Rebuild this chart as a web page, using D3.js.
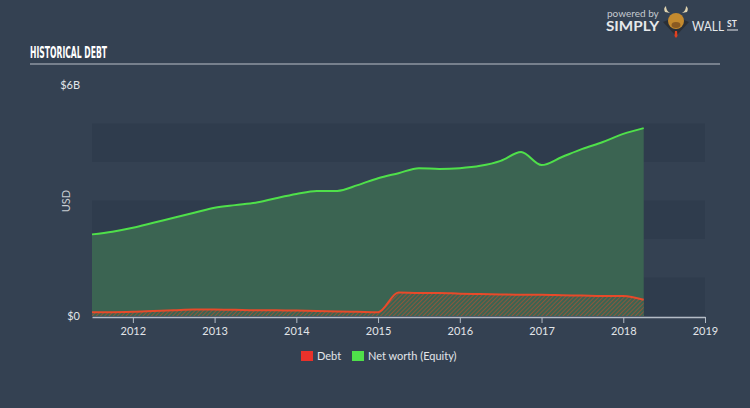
<!DOCTYPE html>
<html><head><meta charset="utf-8">
<script src="https://cdn.jsdelivr.net/npm/d3@7"></script>
<style>html,body{margin:0;padding:0;background:#344152;}svg{display:block;}</style>
</head><body>
<svg id="chart" width="750" height="408"></svg>
<script>
// Data (quarterly, fractional year -> billions USD)
const dates = [2011.5,2011.75,2012,2012.25,2012.5,2012.75,2013,2013.25,2013.5,2013.75,2014,2014.25,2014.5,2014.75,2015,2015.25,2015.5,2015.75,2016,2016.25,2016.5,2016.75,2017,2017.25,2017.5,2017.75,2018,2018.25];
const equity = [2.12,2.19,2.29,2.42,2.55,2.68,2.81,2.88,2.94,3.06,3.17,3.25,3.25,3.40,3.58,3.71,3.84,3.82,3.84,3.90,4.03,4.26,3.92,4.13,4.34,4.52,4.73,4.88];
const debt =   [0.10,0.10,0.11,0.13,0.15,0.17,0.17,0.16,0.15,0.15,0.14,0.13,0.12,0.11,0.10,0.61,0.60,0.60,0.58,0.57,0.56,0.55,0.55,0.54,0.53,0.52,0.52,0.42];
const xTicks = [2012,2013,2014,2015,2016,2017,2018,2019];
const yTickLabels = [{v:0,t:"$0"},{v:6,t:"$6B"}];
const legendItems = [{name:"Debt",color:"#e8312a"},{name:"Net worth (Equity)",color:"#4fe04a"}];

const svg = d3.select("#chart");
svg.append("rect").attr("width",750).attr("height",408).attr("fill","#344152");

const m = {l:92, r:705, t:85, b:317};
const x = d3.scaleLinear().domain([2011.5,2019]).range([m.l,m.r]);
const y = d3.scaleLinear().domain([0,6]).range([m.b-1,m.t]);

// pattern
const defs = svg.append("defs");
const pat = defs.append("pattern").attr("id","hatch").attr("patternUnits","userSpaceOnUse")
  .attr("width",3).attr("height",3).attr("patternTransform","rotate(45)");
pat.append("rect").attr("width",3).attr("height",3).attr("fill","#3b6452");
pat.append("line").attr("x1",0).attr("y1",0).attr("x2",0).attr("y2",3)
  .attr("stroke","#c24e2c").attr("stroke-width",1.2);

// bands
[0,2,4].forEach(b=>{
  svg.append("rect").attr("x",m.l).attr("width",m.r-m.l)
    .attr("y",y(b+1)).attr("height",y(b)-y(b+1)).attr("fill","#2f3c4d");
});

// Title
svg.append("text").attr("x",30).attr("y",58).text("HISTORICAL DEBT")
  .attr("fill","#ffffff").attr("font-family","Liberation Sans Narrow, DejaVu Sans Condensed, sans-serif")
  .attr("font-weight","bold").attr("font-size",15.5).attr("textLength",77).attr("lengthAdjust","spacingAndGlyphs");
svg.append("line").attr("x1",30).attr("x2",720).attr("y1",64).attr("y2",64).attr("stroke","#b9c0c8").attr("stroke-width",1.2);

// Logo
const lg = svg.append("g").attr("font-family","Lato, Open Sans, sans-serif").attr("fill","#e6e8eb");
lg.append("text").attr("x",607).attr("y",17).attr("font-size",10).text("powered by").attr("fill","#c5cad0");
lg.append("text").attr("x",606).attr("y",31).attr("font-size",13).attr("font-weight","bold").text("SIMPLY")
  .attr("textLength",53).attr("lengthAdjust","spacingAndGlyphs");
lg.append("text").attr("x",692).attr("y",31).attr("font-size",13).text("WALL")
  .attr("textLength",32).attr("lengthAdjust","spacingAndGlyphs");
lg.append("text").attr("x",727).attr("y",27).attr("font-size",8.5).attr("font-weight","bold").text("ST");
lg.append("line").attr("x1",727).attr("x2",738).attr("y1",30).attr("y2",30).attr("stroke","#e6e8eb").attr("stroke-width",1);
const bull = svg.append("g");
bull.append("path").attr("d","M663,22 L676,36 L689,22 L684,20 L676,28 L668,20 Z").attr("fill","#2a2f36");
bull.append("ellipse").attr("cx",676).attr("cy",21).attr("rx",8).attr("ry",8).attr("fill","#c48a2e");
bull.append("path").attr("d","M665,12 Q663,8 666,6 Q666,11 670,13 Z M687,12 Q689,8 686,6 Q686,11 682,13 Z").attr("fill","#e0d4b0");
bull.append("ellipse").attr("cx",676).attr("cy",25).attr("rx",4.5).attr("ry",3).attr("fill","#8a5a22");
bull.append("path").attr("d","M675,31 L677,31 L677.5,36 L676,38 L674.5,36 Z").attr("fill","#e04020");

// Areas
const eqData = dates.map((d,i)=>({d, v:equity[i]}));
const dbData = dates.map((d,i)=>({d, v:debt[i]}));
const curve = d3.curveMonotoneX;
svg.append("path").datum(eqData).attr("fill","#3b6452")
  .attr("d", d3.area().x(p=>x(p.d)).y0(y(0)).y1(p=>y(p.v)).curve(curve));
svg.append("path").datum(eqData).attr("fill","none").attr("stroke","#4fe04a").attr("stroke-width",2)
  .attr("d", d3.line().x(p=>x(p.d)).y(p=>y(p.v)).curve(curve));
svg.append("path").datum(dbData).attr("fill","url(#hatch)")
  .attr("d", d3.area().x(p=>x(p.d)).y0(y(0)).y1(p=>y(p.v)).curve(curve));
svg.append("path").datum(dbData).attr("fill","none").attr("stroke","#e84a2a").attr("stroke-width",2)
  .attr("d", d3.line().x(p=>x(p.d)).y(p=>y(p.v)).curve(curve));

// X axis
const xAxis = d3.axisBottom(x).tickValues(xTicks).tickFormat(d3.format("d")).tickSize(6).tickSizeOuter(0);
const xg = svg.append("g").attr("transform",`translate(0,${m.b})`).call(xAxis);
xg.select(".domain").attr("stroke","#b4bcc6").attr("stroke-width",1.5);
xg.selectAll(".tick line").attr("stroke","#b4bcc6");
xg.selectAll(".tick text").attr("fill","#e2e5e9").attr("font-size",11).attr("font-family","Lato, Open Sans, sans-serif").attr("dy","0.8em");

// Y labels
svg.selectAll(".ylab").data(yTickLabels).enter().append("text")
  .attr("x",80).attr("y",d=>y(d.v)+4).attr("text-anchor","end")
  .attr("fill","#e2e5e9").attr("font-size",11).attr("font-family","Lato, Open Sans, sans-serif").text(d=>d.t);
svg.append("text").attr("transform",`translate(70,${(m.t+m.b)/2}) rotate(-90)`).attr("text-anchor","middle")
  .attr("fill","#c8cdd3").attr("font-size",11).attr("font-family","Lato, Open Sans, sans-serif").text("USD");

// Legend
const lgX = [301, 352];
const leg = svg.selectAll(".leg").data(legendItems).enter().append("g").attr("transform",(d,i)=>`translate(${lgX[i]},351)`);
leg.append("rect").attr("width",12).attr("height",10).attr("fill",d=>d.color);
leg.append("text").attr("x",16).attr("y",9).attr("fill","#e2e5e9").attr("font-size",11)
  .attr("font-family","Lato, Open Sans, sans-serif").text(d=>d.name);
</script>
</body></html>
